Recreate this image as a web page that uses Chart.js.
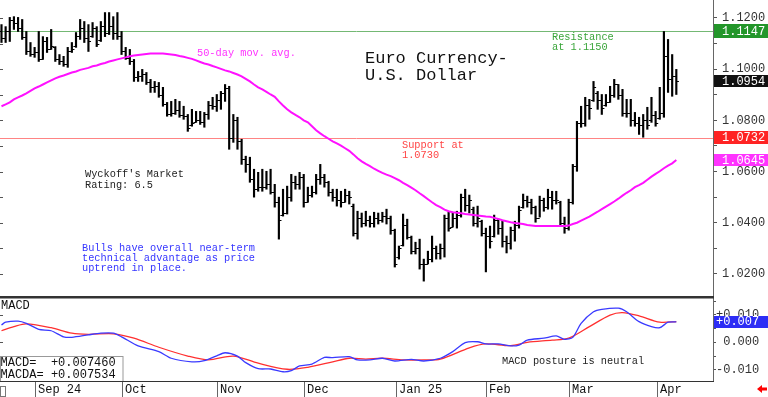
<!DOCTYPE html>
<html>
<head>
<meta charset="utf-8">
<script src="https://cdn.jsdelivr.net/npm/chart.js"></script>
<style>
  html, body { margin: 0; padding: 0; background: #fff; }
  #wrap { position: relative; width: 768px; height: 397px; overflow: hidden; background: #fff; }
  #priceChart { position: absolute; left: 0; top: 0; }
  #macdChart { position: absolute; left: 0; top: 297px; }
</style>
</head>
<body>
<div id="wrap">
  <canvas id="priceChart" width="768" height="297"></canvas>
  <canvas id="macdChart" width="768" height="100"></canvas>
</div>
<script>
// daily bars, one per trading day (index 0 = late Aug 2024, last = Apr 7 2025)
const opens = [
  1.1150,1.1120,1.1150,1.1190,1.1180,1.1160,1.1125,1.1070,1.1060,1.1065,
  1.1040,1.1110,1.1080,1.1085,1.1040,1.1030,1.1020,1.1070,1.1090,1.1130,
  1.1160,1.1120,1.1130,1.1160,1.1115,1.1170,1.1140,1.1170,1.1140,1.1130,
  1.1070,1.1045,1.1030,1.0970,1.0975,1.0980,1.0950,1.0930,1.0935,1.0900,
  1.0865,1.0825,1.0830,1.0840,1.0820,1.0815,1.0780,1.0795,1.0800,1.0795,
  1.0825,1.0860,1.0855,1.0880,1.0905,1.0925,1.0730,1.0800,1.0720,1.0650,
  1.0630,1.0570,1.0530,1.0540,1.0540,1.0550,1.0520,1.0480,1.0430,1.0440,
  1.0500,1.0560,1.0550,1.0580,1.0480,1.0510,1.0520,1.0570,1.0580,1.0560,
  1.0520,1.0500,1.0490,1.0480,1.0510,1.0465,1.0360,1.0420,1.0400,1.0410,
  1.0400,1.0420,1.0410,1.0425,1.0420,1.0370,1.0265,1.0315,1.0390,1.0345,
  1.0290,1.0300,1.0240,1.0240,1.0260,1.0300,1.0280,1.0300,1.0420,1.0385,
  1.0420,1.0430,1.0500,1.0470,1.0455,1.0400,1.0405,1.0360,1.0350,1.0350,
  1.0410,1.0380,1.0330,1.0320,1.0370,1.0390,1.0460,1.0490,1.0480,1.0460,
  1.0420,1.0490,1.0460,1.0500,1.0490,1.0480,1.0400,1.0380,1.0480,1.0620,
  1.0790,1.0790,1.0860,1.0880,1.0905,1.0880,1.0860,1.0870,1.0900,1.0940,
  1.0900,1.0830,1.0830,1.0800,1.0790,1.0780,1.0800,1.0800,1.0820,1.0810,
  1.0830,1.1050,1.0960,1.0975
];
const highs = [
  1.1174,1.1166,1.1202,1.1205,1.1202,1.1194,1.1147,1.1104,1.1085,1.1147,
  1.1127,1.1124,1.1155,1.1088,1.1057,1.1050,1.1085,1.1104,1.1143,1.1194,
  1.1186,1.1174,1.1182,1.1166,1.1186,1.1221,1.1221,1.1205,1.1221,1.1147,
  1.1085,1.1077,1.1038,1.0991,1.0999,1.0987,1.0960,1.0952,1.0948,1.0929,
  1.0870,1.0874,1.0882,1.0874,1.0855,1.0823,1.0843,1.0835,1.0835,1.0831,
  1.0874,1.0890,1.0901,1.0913,1.0940,1.0933,1.0823,1.0812,1.0726,1.0660,
  1.0656,1.0609,1.0597,1.0609,1.0601,1.0609,1.0550,1.0500,1.0531,1.0543,
  1.0589,1.0582,1.0597,1.0589,1.0539,1.0543,1.0589,1.0628,1.0589,1.0562,
  1.0531,1.0531,1.0523,1.0531,1.0523,1.0473,1.0445,1.0438,1.0445,1.0426,
  1.0441,1.0438,1.0441,1.0453,1.0426,1.0375,1.0309,1.0434,1.0414,1.0348,
  1.0324,1.0336,1.0258,1.0289,1.0348,1.0309,1.0317,1.0430,1.0441,1.0441,
  1.0445,1.0512,1.0531,1.0508,1.0461,1.0465,1.0410,1.0379,1.0387,1.0430,
  1.0414,1.0406,1.0348,1.0383,1.0406,1.0465,1.0512,1.0504,1.0492,1.0465,
  1.0504,1.0496,1.0531,1.0523,1.0523,1.0484,1.0422,1.0492,1.0628,1.0796,
  1.0855,1.0890,1.0882,1.0952,1.0913,1.0901,1.0901,1.0933,1.0960,1.0940,
  1.0921,1.0882,1.0882,1.0831,1.0812,1.0823,1.0851,1.0890,1.0835,1.0929,
  1.1147,1.1116,1.1057,1.0999
];
const lows = [
  1.1104,1.1104,1.1108,1.1155,1.1147,1.1116,1.1057,1.1050,1.1046,1.1030,
  1.1038,1.1065,1.1077,1.1030,1.1018,1.1011,1.1007,1.1065,1.1085,1.1116,
  1.1104,1.1069,1.1124,1.1088,1.1108,1.1127,1.1135,1.1116,1.1116,1.1057,
  1.1038,1.1018,1.0952,1.0952,1.0952,1.0940,1.0909,1.0909,1.0890,1.0855,
  1.0816,1.0816,1.0823,1.0812,1.0804,1.0757,1.0777,1.0792,1.0784,1.0773,
  1.0804,1.0843,1.0835,1.0843,1.0874,1.0687,1.0714,1.0687,1.0628,1.0597,
  1.0558,1.0500,1.0523,1.0523,1.0531,1.0512,1.0461,1.0336,1.0426,1.0434,
  1.0484,1.0531,1.0531,1.0461,1.0480,1.0500,1.0512,1.0550,1.0539,1.0504,
  1.0484,1.0465,1.0461,1.0480,1.0473,1.0348,1.0336,1.0383,1.0387,1.0383,
  1.0383,1.0395,1.0402,1.0395,1.0355,1.0227,1.0258,1.0309,1.0336,1.0278,
  1.0278,1.0219,1.0172,1.0239,1.0247,1.0258,1.0258,1.0266,1.0367,1.0383,
  1.0379,1.0422,1.0445,1.0438,1.0387,1.0383,1.0348,1.0208,1.0301,1.0344,
  1.0355,1.0305,1.0282,1.0297,1.0328,1.0379,1.0457,1.0461,1.0434,1.0402,
  1.0422,1.0445,1.0453,1.0453,1.0473,1.0387,1.0359,1.0371,1.0473,1.0601,
  1.0773,1.0777,1.0804,1.0874,1.0843,1.0823,1.0855,1.0870,1.0890,1.0882,
  1.0816,1.0812,1.0777,1.0777,1.0745,1.0734,1.0765,1.0792,1.0777,1.0804,
  1.0812,1.0909,1.0894,1.0901
];
const closes = [
  1.1120,1.1150,1.1190,1.1180,1.1160,1.1125,1.1070,1.1060,1.1065,1.1040,
  1.1110,1.1080,1.1090,1.1040,1.1030,1.1020,1.1070,1.1080,1.1130,1.1160,
  1.1120,1.1110,1.1160,1.1100,1.1170,1.1140,1.1170,1.1140,1.1130,1.1070,
  1.1045,1.1030,1.0970,1.0975,1.0980,1.0950,1.0930,1.0935,1.0900,1.0865,
  1.0825,1.0830,1.0840,1.0820,1.0815,1.0770,1.0790,1.0800,1.0795,1.0825,
  1.0860,1.0855,1.0880,1.0905,1.0925,1.0730,1.0800,1.0720,1.0650,1.0630,
  1.0570,1.0530,1.0540,1.0540,1.0550,1.0520,1.0480,1.0410,1.0440,1.0500,
  1.0560,1.0550,1.0580,1.0480,1.0510,1.0520,1.0570,1.0580,1.0560,1.0520,
  1.0500,1.0490,1.0480,1.0510,1.0500,1.0360,1.0420,1.0400,1.0410,1.0400,
  1.0420,1.0410,1.0425,1.0420,1.0370,1.0240,1.0300,1.0390,1.0345,1.0290,
  1.0300,1.0240,1.0240,1.0260,1.0300,1.0280,1.0300,1.0420,1.0380,1.0420,
  1.0430,1.0500,1.0470,1.0490,1.0400,1.0420,1.0360,1.0350,1.0330,1.0410,
  1.0380,1.0330,1.0320,1.0370,1.0390,1.0450,1.0490,1.0480,1.0460,1.0420,
  1.0490,1.0460,1.0500,1.0490,1.0490,1.0400,1.0380,1.0480,1.0620,1.0790,
  1.0790,1.0860,1.0850,1.0930,1.0880,1.0850,1.0870,1.0900,1.0940,1.0900,
  1.0830,1.0830,1.0800,1.0790,1.0780,1.0800,1.0780,1.0820,1.0790,1.0830,
  1.1050,1.0960,1.0975,1.0954
];
const ma50 = [
  1.0855,1.0862,1.0870,1.0882,1.0890,1.0897,1.0905,1.0915,1.0925,1.0932,
  1.0940,1.0948,1.0956,1.0964,1.0970,1.0975,1.0981,1.0987,1.0991,1.0997,
  1.1001,1.1005,1.1011,1.1014,1.1020,1.1024,1.1030,1.1034,1.1038,1.1042,
  1.1046,1.1050,1.1053,1.1055,1.1057,1.1059,1.1061,1.1061,1.1061,1.1061,
  1.1059,1.1057,1.1055,1.1051,1.1048,1.1044,1.1040,1.1034,1.1028,1.1022,
  1.1018,1.1012,1.1007,1.1001,1.0995,1.0991,1.0985,1.0979,1.0972,1.0962,
  1.0952,1.0940,1.0929,1.0921,1.0911,1.0901,1.0892,1.0874,1.0858,1.0843,
  1.0831,1.0821,1.0812,1.0800,1.0792,1.0777,1.0761,1.0749,1.0738,1.0728,
  1.0718,1.0710,1.0701,1.0691,1.0681,1.0667,1.0652,1.0640,1.0630,1.0621,
  1.0611,1.0603,1.0595,1.0588,1.0582,1.0574,1.0566,1.0556,1.0547,1.0537,
  1.0527,1.0515,1.0504,1.0492,1.0480,1.0469,1.0461,1.0451,1.0445,1.0441,
  1.0439,1.0437,1.0434,1.0432,1.0430,1.0428,1.0426,1.0424,1.0423,1.0419,
  1.0415,1.0410,1.0406,1.0402,1.0399,1.0397,1.0395,1.0391,1.0389,1.0387,
  1.0387,1.0387,1.0387,1.0387,1.0387,1.0387,1.0387,1.0389,1.0395,1.0400,
  1.0408,1.0416,1.0424,1.0434,1.0443,1.0453,1.0463,1.0473,1.0483,1.0494,
  1.0506,1.0517,1.0527,1.0539,1.0547,1.0556,1.0568,1.0580,1.0591,1.0601,
  1.0613,1.0623,1.0632,1.0645
];

// MACD (blue) and MACDA (red), read at bar index positions
const macdIdx = [0,1,4,6,9,12,15,17,21,24,27,29,33,38,41,46,49,52,54,57,59,62,65,68,70,72,75,78,80,84,86,89,92,95,99,102,106,109,112,115,117,120,123,125,127,131,134,136,138,140,143,145,149,151,154,157,159,161,163];
const macdVals = [0.0063,0.0073,0.0077,0.0069,0.0047,0.0042,0.0020,0.0018,0.0027,0.0033,0.0033,0.0020,-0.0013,-0.0034,-0.0058,-0.0071,-0.0067,-0.0049,-0.0038,-0.0050,-0.0074,-0.0096,-0.0097,-0.0107,-0.0103,-0.0086,-0.0079,-0.0055,-0.0056,-0.0052,-0.0064,-0.0064,-0.0058,-0.0068,-0.0062,-0.0068,-0.0058,-0.0034,-0.0001,0.0002,-0.0006,-0.0006,-0.0013,-0.0010,0.0008,0.0015,0.0023,0.0011,0.0018,0.0069,0.0111,0.0120,0.0124,0.0111,0.0075,0.0057,0.0053,0.0073,0.007460];
const macdaIdx = [0,3,6,12,17,21,27,32,38,45,50,56,62,69,74,80,84,88,92,97,102,106,113,117,123,127,133,137,142,147,150,154,159,163];
const macdaVals = [0.0042,0.0057,0.0067,0.0053,0.0033,0.0029,0.0031,0.0015,-0.0018,-0.0050,-0.0064,-0.0050,-0.0076,-0.0098,-0.0091,-0.0071,-0.0058,-0.0061,-0.0058,-0.0064,-0.0064,-0.0061,-0.0020,-0.0006,-0.0012,0.0000,0.0008,0.0015,0.0057,0.0099,0.0108,0.0096,0.0073,0.007534];

// month separators on the date axis (bar index of first day of month)
const monthLabels = ['Sep 24', 'Oct', 'Nov', 'Dec', 'Jan 25', 'Feb', 'Mar', 'Apr'];
const monthStarts = [8.1, 29.1, 52.05, 73.1, 95.2, 117.0, 137.1, 158.3];

const resistance = 1.1147;
const support = 1.0732;

const xMin = -0.36, xMax = 171.86;
const MONO = '"Liberation Mono", "DejaVu Sans Mono", monospace';
Chart.defaults.font.family = MONO;
Chart.defaults.animation = false;

function hline(ctx, area, yp, color) {
  ctx.strokeStyle = color;
  ctx.lineWidth = 1;
  ctx.beginPath();
  ctx.moveTo(area.left, Math.round(yp) + 0.5);
  ctx.lineTo(area.right, Math.round(yp) + 0.5);
  ctx.stroke();
}

function tagBox(ctx, scale, v, text, bg, h, tx) {
  const yp = scale.getPixelForValue(v);
  ctx.fillStyle = bg;
  ctx.fillRect(scale.left + 1, Math.round(yp - h / 2), 768 - scale.left - 1, h);
  ctx.fillStyle = '#fff';
  ctx.font = '12px ' + MONO;
  ctx.textBaseline = 'middle';
  ctx.textAlign = 'left';
  ctx.fillText(text, tx, yp + 0.5);
}

function texts(ctx, lines, x, y0, step, color, font) {
  ctx.fillStyle = color;
  ctx.font = font;
  ctx.textBaseline = 'middle';
  ctx.textAlign = 'left';
  lines.forEach((t, k) => ctx.fillText(t, x, y0 + k * step));
}

const priceDecor = {
  id: 'priceDecor',
  beforeDatasetsDraw(chart) {
    const {ctx, chartArea, scales} = chart;
    ctx.save();
    hline(ctx, chartArea, scales.y.getPixelForValue(resistance), '#74b874');
    hline(ctx, chartArea, scales.y.getPixelForValue(support), '#ff8484');
    ctx.restore();
  },
  afterDatasetsDraw(chart) {
    const {ctx, scales: {x, y}} = chart;
    ctx.save();
    // open / close ticks
    ctx.fillStyle = '#000';
    for (let i = 0; i < closes.length; i++) {
      const px = x.getPixelForValue(i);
      ctx.fillRect(px - 2.6, Math.round(y.getPixelForValue(opens[i])), 2.6, 1);
      ctx.fillRect(px, Math.round(y.getPixelForValue(closes[i])), 2.6, 1);
    }
    // small ticks on the left edge
    ctx.fillStyle = '#555';
    for (let k = 102; k <= 112; k++) {
      ctx.fillRect(0, Math.round(y.getPixelForValue(k / 100)), 3, 1);
    }
    const small = '10.3px ' + MONO;
    texts(ctx, ['Euro Currency-', 'U.S. Dollar'], 365, 58.5, 17, '#111', '17px ' + MONO);
    texts(ctx, ['50-day mov. avg.'], 197, 53.5, 10.5, '#ff33ff', small);
    texts(ctx, ['Resistance', 'at 1.1150'], 552, 37, 10.3, '#3aa53a', small);
    texts(ctx, ['Support at', '1.0730'], 402, 145, 10.3, '#ff4444', small);
    texts(ctx, ["Wyckoff's Market", 'Rating: 6.5'], 85, 174.5, 10.3, '#222', small);
    texts(ctx, ['Bulls have overall near-term', 'technical advantage as price', 'uptrend in place.'],
      82, 248, 10.3, '#3535ff', small);
    ctx.restore();
  },
  afterDraw(chart) {
    const {ctx, scales: {y}} = chart;
    ctx.save();
    tagBox(ctx, y, resistance, resistance.toFixed(4), '#23962a', 14, 722);
    tagBox(ctx, y, closes[closes.length - 1], closes[closes.length - 1].toFixed(4), '#111', 12, 722);
    tagBox(ctx, y, support, support.toFixed(4), '#ff2424', 13, 722);
    tagBox(ctx, y, ma50[ma50.length - 1], ma50[ma50.length - 1].toFixed(4), '#ff33ff', 12, 722);
    // panel separator
    ctx.fillStyle = '#333';
    ctx.fillRect(0, 296, 714, 1);
    ctx.restore();
  }
};

new Chart(document.getElementById('priceChart'), {
  type: 'bar',
  data: {
    datasets: [
      {
        type: 'line',
        label: '50-day mov. avg.',
        data: ma50.map((v, i) => ({x: i, y: v})),
        borderColor: '#ff11ff',
        borderWidth: 2,
        pointRadius: 0,
        order: 0
      },
      {
        type: 'bar',
        label: 'Euro',
        data: highs.map((h, i) => ({x: i, y: [lows[i], h]})),
        backgroundColor: '#000',
        borderWidth: 0,
        barThickness: 1.5,
        order: 1
      }
    ]
  },
  options: {
    responsive: false,
    maintainAspectRatio: false,
    events: [],
    layout: {padding: 0},
    plugins: {legend: {display: false}, tooltip: {enabled: false}},
    scales: {
      x: {type: 'linear', min: xMin, max: xMax, offset: false, display: false},
      y: {
        position: 'right',
        min: 1.0110,
        max: 1.1270,
        beginAtZero: false,
        ticks: {
          stepSize: 0.01,
          includeBounds: false,
          autoSkip: false,
          padding: 5,
          color: '#333',
          font: {size: 12, family: MONO},
          callback: v => (Math.round(v * 100) % 2 === 0 ? v.toFixed(4) : '')
        },
        grid: {drawOnChartArea: false, tickLength: 4, color: '#555'},
        border: {color: '#666', width: 1},
        afterFit: s => { s.width = 55; s.paddingTop = 0; s.paddingBottom = 0; }
      }
    }
  },
  plugins: [priceDecor]
});

const macdDecor = {
  id: 'macdDecor',
  afterDatasetsDraw(chart) {
    const {ctx, scales: {y}} = chart;
    ctx.save();
    ctx.fillStyle = '#555';
    for (let k = -1; k <= 1; k++) {
      ctx.fillRect(0, Math.round(y.getPixelForValue(k / 100)), 3, 1);
    }
    texts(ctx, ['MACD'], 1, 8.5, 12, '#111', '12px ' + MONO);
    texts(ctx, ['MACD posture is neutral'], 502, 64, 10, '#222', '10.3px ' + MONO);
    // value box at lower left
    ctx.fillStyle = '#fff';
    ctx.fillRect(0, 59.5, 123, 24);
    ctx.strokeStyle = '#999';
    ctx.lineWidth = 1;
    ctx.strokeRect(0.5, 59.5, 122.5, 25);
    texts(ctx, ['MACD=  +' + macdVals[macdVals.length - 1].toFixed(6),
                'MACDA= +' + macdaVals[macdaVals.length - 1].toFixed(6)],
      0.5, 66, 12, '#111', '12px ' + MONO);
    ctx.restore();
  },
  afterDraw(chart) {
    const {ctx, chartArea, scales: {x, y}} = chart;
    ctx.save();
    ctx.fillStyle = '#333';
    ctx.fillRect(0, 0, 714, 1.5);
    ctx.fillRect(0, chartArea.bottom, 714, 1);
    // date band
    ctx.fillStyle = '#555';
    ctx.font = '12px ' + MONO;
    ctx.textBaseline = 'middle';
    ctx.textAlign = 'left';
    monthStarts.forEach((m, k) => {
      const px = Math.round(x.getPixelForValue(m));
      ctx.fillStyle = '#666';
      ctx.fillRect(px, chartArea.bottom + 1, 1, 16);
      ctx.fillStyle = '#111';
      ctx.fillText(monthLabels[k], px + 3, 92.5);
    });
    ctx.strokeStyle = '#777';
    ctx.lineWidth = 1;
    ctx.strokeRect(0.5, 89.5, 5, 10);
    // red arrow at lower right
    ctx.fillStyle = '#ff0000';
    ctx.beginPath();
    ctx.moveTo(757, 92);
    ctx.lineTo(762, 88);
    ctx.lineTo(762, 96);
    ctx.closePath();
    ctx.fill();
    ctx.fillRect(761, 90.5, 6, 3);
    tagBox(ctx, y, macdVals[macdVals.length - 1], '+' + macdVals[macdVals.length - 1].toFixed(3), '#2d2df5', 12, 716);
    ctx.restore();
  }
};

new Chart(document.getElementById('macdChart'), {
  type: 'line',
  data: {
    datasets: [
      {
        label: 'MACD',
        data: macdIdx.map((d, k) => ({x: d, y: macdVals[k]})),
        borderColor: '#3a3aff',
        borderWidth: 1.3,
        pointRadius: 0,
        tension: 0.25
      },
      {
        label: 'MACDA',
        data: macdaIdx.map((d, k) => ({x: d, y: macdaVals[k]})),
        borderColor: '#ff3030',
        borderWidth: 1.3,
        pointRadius: 0,
        tension: 0.3
      }
    ]
  },
  options: {
    responsive: false,
    maintainAspectRatio: false,
    events: [],
    layout: {padding: {left: 0, right: 0, top: 0, bottom: 16}},
    plugins: {legend: {display: false}, tooltip: {enabled: false}},
    scales: {
      x: {type: 'linear', min: xMin, max: xMax, offset: false, display: false},
      y: {
        position: 'right',
        min: -0.01407,
        max: 0.01647,
        ticks: {
          stepSize: 0.005,
          includeBounds: false,
          autoSkip: false,
          padding: 0,
          color: '#333',
          font: {size: 12, family: MONO},
          callback: v => {
            const k = Math.round(v * 1000);
            if (k % 10 !== 0) return '';
            if (k === 0) return ' 0.000';
            return (k > 0 ? '+' : '') + v.toFixed(3);
          }
        },
        grid: {drawOnChartArea: false, tickLength: 3, color: '#555'},
        border: {color: '#666', width: 1},
        afterFit: s => { s.width = 55; s.paddingTop = 0; s.paddingBottom = 0; }
      }
    }
  },
  plugins: [macdDecor]
});
</script>
</body>
</html>
